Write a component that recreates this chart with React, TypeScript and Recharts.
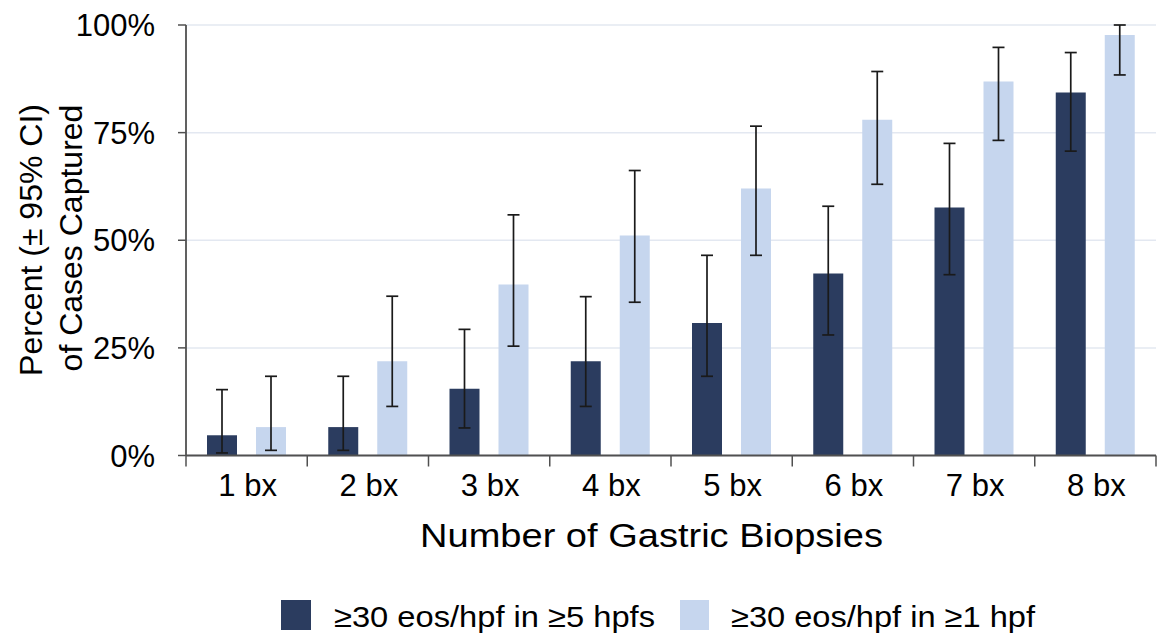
import React from 'react';
import { BarChart, Bar, XAxis, YAxis, CartesianGrid, ErrorBar } from 'recharts';

const categories = ['1 bx', '2 bx', '3 bx', '4 bx', '5 bx', '6 bx', '7 bx', '8 bx'];
const darkValues = [4.7, 6.6, 15.5, 21.9, 30.8, 42.3, 57.6, 84.3];
const darkLow = [0.6, 1.2, 6.4, 11.4, 18.4, 28.0, 42.0, 70.7];
const darkHigh = [15.3, 18.4, 29.3, 36.9, 46.5, 57.9, 72.5, 93.6];
const lightValues = [6.6, 21.9, 39.7, 51.1, 62.0, 78.0, 86.9, 97.7];
const lightLow = [1.2, 11.4, 25.4, 35.6, 46.5, 63.0, 73.2, 88.4];
const lightHigh = [18.4, 37.0, 55.9, 66.2, 76.5, 89.2, 94.8, 100];
const yTicks = [0, 25, 50, 75, 100];
const seriesNames = ['≥30 eos/hpf in ≥5 hpfs', '≥30 eos/hpf in ≥1 hpf'];

const DARK = '#2B3C5F';
const LIGHT = '#C6D6EE';
const AXIS = '#505050';
const TEXT = '#000';
const FONT = 'Liberation Sans, Arial, Helvetica, sans-serif';

const W = 1167;
const H = 643;
const MARGIN = { top: 25, right: 11, bottom: 0, left: 0 };
const Y_AXIS_W = 186;
const X_AXIS_H = 187.5;
const PLOT_BOTTOM = H - MARGIN.bottom - X_AXIS_H;
const BAND = (W - MARGIN.left - MARGIN.right - Y_AXIS_W) / categories.length;

const data = categories.map((c, i) => ({
  name: c,
  dark: darkValues[i],
  light: lightValues[i],
  darkErr: [darkValues[i] - darkLow[i], darkHigh[i] - darkValues[i]],
  lightErr: [lightValues[i] - lightLow[i], lightHigh[i] - lightValues[i]],
}));

const XTick = (props: any) => {
  const { x, payload, index } = props;
  const half = BAND / 2;
  return (
    <g>
      {index === 0 && (
        <line x1={x - half} x2={x - half} y1={PLOT_BOTTOM} y2={PLOT_BOTTOM + 11} stroke={AXIS} strokeWidth={1.5} />
      )}
      <line x1={x + half} x2={x + half} y1={PLOT_BOTTOM} y2={PLOT_BOTTOM + 11} stroke={AXIS} strokeWidth={1.5} />
      <text x={x + 1} y={496} textAnchor="middle" fontSize={31} fontFamily={FONT} fill={TEXT}>
        {payload.value}
      </text>
    </g>
  );
};

const XExtras = () => (
  <g>
    <text x={420} y={547} fontSize={33} fontFamily={FONT} fill={TEXT} textLength={463} lengthAdjust="spacingAndGlyphs">
      Number of Gastric Biopsies
    </text>
    <rect x={281} y={600} width={30} height={30} fill={DARK} />
    <text x={334} y={627} fontSize={30} fontFamily={FONT} fill={TEXT} textLength={321} lengthAdjust="spacingAndGlyphs">
      {seriesNames[0]}
    </text>
    <rect x={680} y={600} width={29} height={30} fill={LIGHT} />
    <text x={731} y={627} fontSize={30} fontFamily={FONT} fill={TEXT} textLength={304} lengthAdjust="spacingAndGlyphs">
      {seriesNames[1]}
    </text>
  </g>
);

const YExtras = () => (
  <g>
    <text x={42} y={240} transform="rotate(-90, 42, 240)" textAnchor="middle" fontSize={32} fontFamily={FONT} fill={TEXT}>
      Percent (± 95% CI)
    </text>
    <text x={82} y={238} transform="rotate(-90, 82, 238)" textAnchor="middle" fontSize={32} fontFamily={FONT} fill={TEXT}>
      of Cases Captured
    </text>
  </g>
);

export default function App() {
  return (
    <div style={{ position: 'absolute', left: 0, top: 0, width: W, height: H, background: '#fff' }}>
      <BarChart width={W} height={H} data={data} margin={MARGIN} barSize={30} barGap={19}>
        <CartesianGrid vertical={false} stroke="#E3E8F1" strokeWidth={1.5} />
        <XAxis
          dataKey="name"
          height={X_AXIS_H}
          axisLine={{ stroke: AXIS, strokeWidth: 1.8 }}
          tickLine={false}
          tick={<XTick />}
          interval={0}
          label={<XExtras />}
        />
        <YAxis
          width={Y_AXIS_W}
          domain={[0, 100]}
          ticks={yTicks}
          tickFormatter={(v: number) => `${v}%`}
          axisLine={{ stroke: AXIS, strokeWidth: 1.8 }}
          tickLine={{ stroke: AXIS, strokeWidth: 1.5 }}
          tickSize={8}
          tickMargin={23}
          tick={{ fontSize: 31, fontFamily: FONT, fill: TEXT }}
          label={<YExtras />}
        />
        <Bar dataKey="dark" name={seriesNames[0]} fill={DARK} isAnimationActive={false}>
          <ErrorBar dataKey="darkErr" width={6} stroke="#1a1a1a" strokeWidth={1.7} />
        </Bar>
        <Bar dataKey="light" name={seriesNames[1]} fill={LIGHT} isAnimationActive={false}>
          <ErrorBar dataKey="lightErr" width={6} stroke="#1a1a1a" strokeWidth={1.7} />
        </Bar>
      </BarChart>
    </div>
  );
}
